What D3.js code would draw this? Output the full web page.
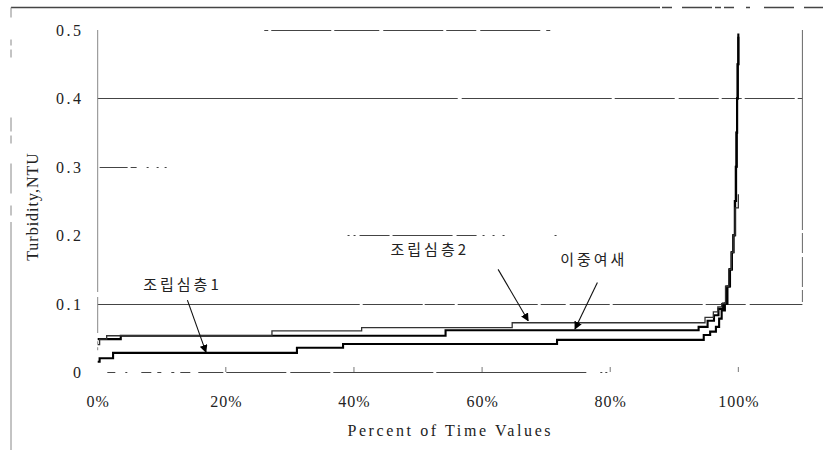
<!DOCTYPE html>
<html>
<head>
<meta charset="utf-8">
<script src="https://cdn.jsdelivr.net/npm/d3@7/dist/d3.min.js"></script>
<style>
  html, body { margin: 0; padding: 0; background: #fff; }
  svg { display: block; }
  .lbl { font-family: "Liberation Serif", "DejaVu Serif", serif; font-size: 16px; fill: #222; }
  .kr { font-family: "Noto Sans CJK KR", sans-serif; font-size: 15px; fill: #222; letter-spacing: 3px; }
</style>
</head>
<body>
<svg id="chart" width="823" height="450"></svg>
<script>
// Duration curves of filtered-water turbidity: [percent of time, NTU]
const seriesNames = ["조립심층1", "조립심층2", "이중여새"];

const deepBed1 = [
  [0, 0.015], [0.3, 0.020], [2.4, 0.028], [31.1, 0.0355], [38.3, 0.041],
  [71.7, 0.047], [94.6, 0.054], [95.6, 0.059], [96.5, 0.066], [97.0, 0.078],
  [97.4, 0.090], [97.9, 0.100], [98.3, 0.125], [98.7, 0.150], [99.0, 0.175],
  [99.25, 0.200], [99.5, 0.250], [99.65, 0.300], [99.75, 0.350], [99.8, 0.400],
  [99.9, 0.450], [100, 0.490]
];

const deepBed2 = [
  [0, 0.040], [0.3, 0.048], [1.4, 0.053], [27.2, 0.060], [41.2, 0.065],
  [64.7, 0.072], [94.8, 0.080], [96.1, 0.088], [96.8, 0.095], [97.4, 0.100],
  [98.0, 0.125], [98.5, 0.150], [98.9, 0.175], [99.2, 0.200], [99.5, 0.240],
  [100, 0.260]
];

const dualMedia = [
  [0, 0.048], [3.6, 0.053], [54.3, 0.061], [93.8, 0.066], [95.2, 0.075],
  [96.2, 0.083], [96.9, 0.092], [97.6, 0.100], [98.1, 0.125], [98.6, 0.150],
  [98.95, 0.175], [99.2, 0.200], [99.45, 0.250], [99.6, 0.300], [99.7, 0.350],
  [99.8, 0.400], [99.9, 0.450], [100, 0.495]
];

const xTicks = [0, 20, 40, 60, 80, 100];
const xTickLabels = ["0%", "20%", "40%", "60%", "80%", "100%"];
const yTicks = [0, 0.1, 0.2, 0.3, 0.4, 0.5];
const yTickLabels = ["0", "0.1", "0.2", "0.3", "0.4", "0.5"];

// Visible stretch of each horizontal gridline, in percent of time
const gridSpans = [
  { v: 0.5, from: 26, to: 71, dash: "4 3 60 3 45 4 60 3 30 4 60 6" },
  { v: 0.4, from: 0, to: 110, dash: "360 4 150 3 60 4 40 3 20 3 50 3 10 3" },
  { v: 0.3, from: 0.3, to: 13.5, dash: "28 3 6 10 2 8 2 6 2 20" },
  { v: 0.2, from: 39, to: 72, dash: "2 4 2 4 30 3 60 4 20 6 2 8 2 8 2 50" },
  { v: 0.1, from: 0, to: 110, dash: "262 3 60 2 30 3 80 3 25 4 40 3 90 3 40 4 60 20" },
  { v: 0, from: 1.5, to: 82, dash: "8 10 2 14 10 6 4 10 3 6 10 8 25 3 60 4 40 3 100 3 150 14 2 3 2 60" }
];

// Callout labels: text centre and arrow tail/tip in data coordinates
const callouts = [
  { text: "조립심층1", tx: 13.0, ty: 0.129, from: [14.0, 0.105], to: [16.9, 0.029] },
  { text: "조립심층2", tx: 51.6, ty: 0.181, from: [62.5, 0.150], to: [67.2, 0.075] },
  { text: "이중여새", tx: 77.2, ty: 0.166, from: [78.0, 0.131], to: [74.5, 0.063] }
];

const svg = d3.select("#chart");
const W = 823, H = 450;

const x = d3.scaleLinear().domain([0, 110]).range([97.7, 802.4]);
const y = d3.scaleLinear().domain([0, 0.5]).range([372, 30]);

svg.append("rect").attr("width", W).attr("height", H).attr("fill", "#fff");

// outer frame remnants
const frame = svg.append("g").attr("stroke", "#444").attr("fill", "none");
frame.append("line").attr("x1", 11).attr("x2", 640).attr("y1", 7.5).attr("y2", 7.5).attr("stroke-width", 1.3);
frame.append("line").attr("x1", 640).attr("x2", 823).attr("y1", 7.5).attr("y2", 7.5)
  .attr("stroke-width", 1.3).attr("stroke-dasharray", "20 2 10 10 30 3 6 3 10 12 4 14 30 10");
frame.append("line").attr("x1", 11).attr("x2", 11).attr("y1", 7.5).attr("y2", 222)
  .attr("stroke", "#888").attr("stroke-dasharray", "10 22 6 4 8 60 14 4 8 20 30 12");
frame.append("line").attr("x1", 11).attr("x2", 11).attr("y1", 222).attr("y2", 450).attr("stroke", "#888");

// gridlines
const grid = svg.append("g").attr("stroke", "#444").attr("stroke-width", 1.1);
grid.selectAll("line").data(gridSpans).join("line")
  .attr("x1", d => x(d.from)).attr("x2", d => x(d.to))
  .attr("y1", d => Math.round(y(d.v)) + 0.5).attr("y2", d => Math.round(y(d.v)) + 0.5)
  .attr("stroke-dasharray", d => d.dash);

// value axis line and right edge of plot area
svg.append("line").attr("x1", x(0)).attr("x2", x(0))
  .attr("y1", y(0.5)).attr("y2", y(0.057))
  .attr("stroke", "#888").attr("stroke-dasharray", "262 5 300 0");
svg.append("line").attr("x1", x(0)).attr("x2", x(0))
  .attr("y1", y(0.045)).attr("y2", y(0.03))
  .attr("stroke", "#888").attr("stroke-dasharray", "3 3");
svg.append("line").attr("x1", x(110)).attr("x2", x(110))
  .attr("y1", y(0.5)).attr("y2", y(0.1))
  .attr("stroke", "#666").attr("stroke-dasharray", "200 3 20 4 30 3 12 4 30 5");

// small tick marks on the zero line
svg.append("g").selectAll("line").data(xTicks.filter(t => t > 0)).join("line")
  .attr("x1", d => x(d)).attr("x2", d => x(d))
  .attr("y1", y(0) - 5).attr("y2", y(0))
  .attr("stroke", "#777");

// text helper; letter spacing is added after every glyph, so shift the anchor back
function label(px, py, str, anchor, ls, rot) {
  const shift = anchor === "end" ? ls : anchor === "middle" ? ls / 2 : 0;
  svg.append("g")
    .attr("transform", `translate(${px},${py}) rotate(${rot || 0})`)
    .append("text").attr("class", "lbl")
    .attr("x", shift)
    .attr("text-anchor", anchor)
    .style("letter-spacing", ls + "px")
    .text(str);
}

yTicks.forEach((t, i) => label(81, y(t) + 6, yTickLabels[i], "end", 2.5));
xTicks.forEach((t, i) => label(x(t), 407, xTickLabels[i], "middle", 1));
label(449, 436, "Percent of Time Values", "middle", 2.6);
label(38, 207, "Turbidity,NTU", "middle", 1, -90);

// duration curves
const line = d3.line().x(d => x(d[0])).y(d => y(d[1])).curve(d3.curveStepAfter);
const curves = [
  { data: dualMedia, color: "#000", width: 2.1 },
  { data: deepBed1, color: "#000", width: 2.1 },
  { data: deepBed2, color: "#333", width: 1.3 }
];
svg.append("g").attr("fill", "none").selectAll("path").data(curves).join("path")
  .attr("d", d => line(d.data))
  .attr("stroke", d => d.color)
  .attr("stroke-width", d => d.width)
  .attr("stroke-linejoin", "miter");

// callouts with arrows
const defs = svg.append("defs");
defs.append("marker").attr("id", "arrowHead")
  .attr("viewBox", "0 0 10 10").attr("refX", 9).attr("refY", 5)
  .attr("markerWidth", 8).attr("markerHeight", 8).attr("markerUnits", "userSpaceOnUse")
  .attr("orient", "auto")
  .append("path").attr("d", "M0,0 L10,5 L0,10 Z").attr("fill", "#000");

const co = svg.append("g");
co.selectAll("line").data(callouts).join("line")
  .attr("x1", d => x(d.from[0])).attr("y1", d => y(d.from[1]))
  .attr("x2", d => x(d.to[0])).attr("y2", d => y(d.to[1]))
  .attr("stroke", "#111").attr("stroke-width", 1.1)
  .attr("marker-end", "url(#arrowHead)");
co.selectAll("text").data(callouts).join("text")
  .attr("class", "kr")
  .attr("x", d => x(d.tx) + 1.5).attr("y", d => y(d.ty))
  .attr("text-anchor", "middle")
  .attr("dominant-baseline", "central")
  .text(d => d.text);
</script>
</body>
</html>
